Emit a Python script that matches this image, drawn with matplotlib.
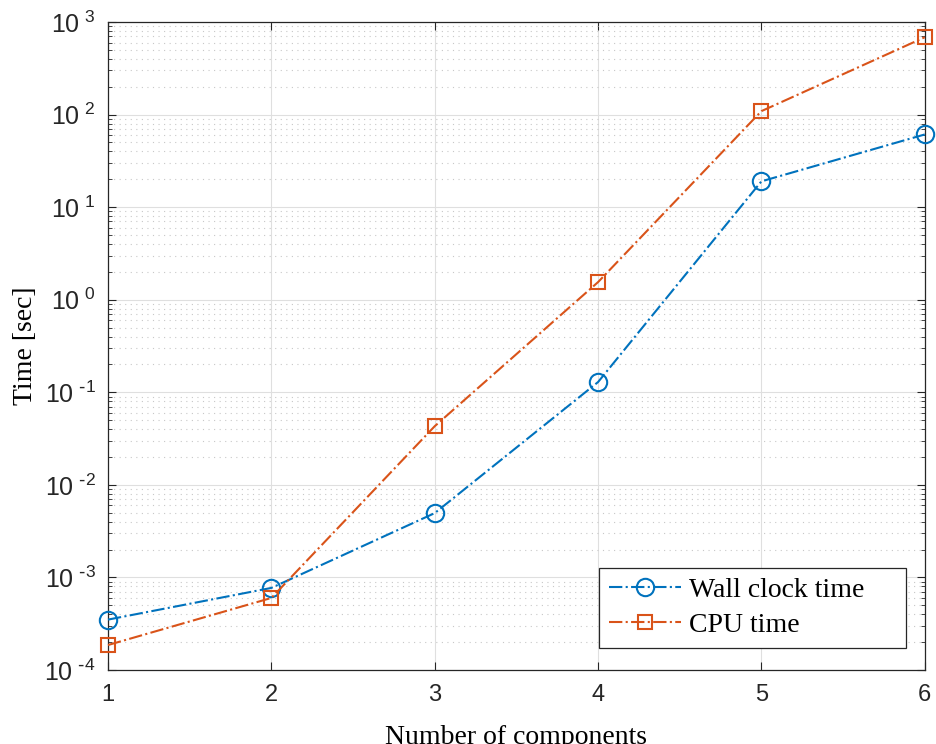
import matplotlib.pyplot as plt
from matplotlib.ticker import FuncFormatter, LogLocator, NullFormatter
import numpy as np

components = [1, 2, 3, 4, 5, 6]
wall_clock = [3.5e-4, 7.7e-4, 4.95e-3, 0.129, 19.0, 61.0]
cpu_time = [1.86e-4, 6.0e-4, 0.043, 1.55, 109.0, 685.0]

plt.rcParams["font.family"] = ["Liberation Sans", "DejaVu Sans"]
plt.rcParams["mathtext.default"] = "regular"


def decade_label(value, pos):
    exponent = int(round(np.log10(value)))
    sign = r"\text{-}" if exponent < 0 else ""
    return r"$10^{\ %s%d}$" % (sign, abs(exponent))


fig = plt.figure(figsize=(9.36, 7.44), dpi=100)
ax = fig.add_axes([0.1154, 0.0995, 0.8726, 0.8709])

ax.plot(components, wall_clock, linestyle="-.", color="#0072BD", linewidth=1.5,
        marker="o", markersize=12.5, markerfacecolor="none", markeredgewidth=1.5,
        label="Wall clock time", clip_on=False, zorder=3)
ax.plot(components, cpu_time, linestyle="-.", color="#D95319", linewidth=1.5,
        marker="s", markersize=9.5, markerfacecolor="none", markeredgewidth=1.5,
        label="CPU time", clip_on=False, zorder=3)

ax.set_yscale("log")
ax.set_xlim(1, 6)
ax.set_ylim(1e-4, 1e3)
ax.set_xticks(components)
ax.yaxis.set_major_locator(LogLocator(base=10, numticks=20))
ax.yaxis.set_major_formatter(FuncFormatter(decade_label))
ax.yaxis.set_minor_locator(LogLocator(base=10, subs=range(2, 10), numticks=20))
ax.yaxis.set_minor_formatter(NullFormatter())

ax.grid(True, which="major", color="#dfdfdf", linewidth=0.8, linestyle="-")
ax.grid(True, which="minor", axis="y", color="#c8c8c8", linewidth=0.8, linestyle=(0, (1, 4)))
ax.set_axisbelow(True)

ax.tick_params(which="both", direction="in", top=True, right=True, colors="#262626")
ax.tick_params(which="major", length=6, width=0.8, labelsize=17, pad=10)
ax.tick_params(which="minor", length=3, width=0.6)
ax.tick_params(axis="y", labelsize=18, pad=9)
for spine in ax.spines.values():
    spine.set_color("#262626")
    spine.set_linewidth(0.9)

ax.set_xlabel("Number of components", fontsize=20, family="Liberation Serif", labelpad=14)
ax.set_ylabel("Time [sec]", fontsize=20, family="Liberation Serif", labelpad=4.5)

leg = ax.legend(loc="lower left", bbox_to_anchor=(0.601, 0.034, 0.376, 0.12),
                mode="expand", prop={"family": "Liberation Serif", "size": 20},
                fancybox=False, framealpha=1, edgecolor="#262626",
                handlelength=2.6, handletextpad=0.3, borderpad=0.35,
                labelspacing=0.35, borderaxespad=0)
leg.get_frame().set_linewidth(0.9)

fig.savefig("out.png", dpi=100)
